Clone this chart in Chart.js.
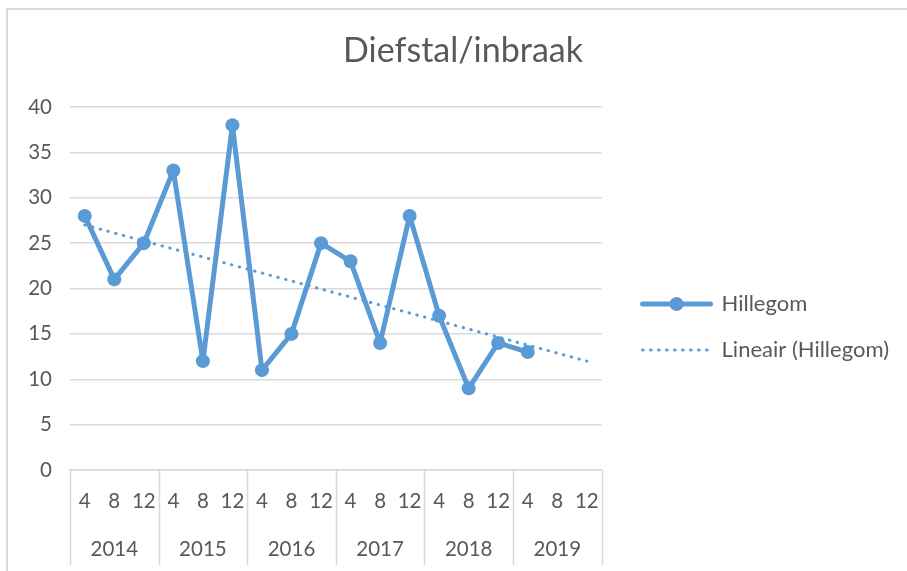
<!DOCTYPE html>
<html>
<head>
<meta charset="utf-8">
<script src="https://cdn.jsdelivr.net/npm/chart.js@4"></script>
<style>
  html, body { margin: 0; padding: 0; background: #fff; overflow: hidden; }
  #frame { position: absolute; left: 6px; top: 8px; width: 1000px; height: 1000px;
           border-left: 2px solid #d9d9d9; border-top: 2px solid #d9d9d9; }
  #wrap { position: absolute; left: 0; top: 0; width: 907px; height: 571px; }
</style>
</head>
<body>
<div id="frame"></div>
<div id="wrap"><canvas id="myChart"></canvas></div>
<script>
const months = ["4", "8", "12", "4", "8", "12", "4", "8", "12",
                "4", "8", "12", "4", "8", "12", "4", "8", "12"];
const years = ["2014", "2015", "2016", "2017", "2018", "2019"];
const hillegom = [28, 21, 25, 33, 12, 38, 11, 15, 25, 23, 14, 28, 17, 9, 14, 13, null, null];
// trendlijn: alleen begin- en eindpunt, de rest wordt overbrugd
const trend = [27, null, null, null, null, null, null, null, null,
               null, null, null, null, null, null, null, null, 12];

const blue = "#5b9bd5";
const grey = "#d9d9d9";
const textColor = "#595959";
const font = "Lato, 'Open Sans', sans-serif";
const axisSize = 20.5;

// bolletje midden op de lijn in de legenda + scheidingslijnen tussen de jaren
const extras = {
  id: "extras",
  afterDraw(chart) {
    const ctx = chart.ctx;
    ctx.save();

    const box = chart.legend.legendHitBoxes[0];
    if (box) {
      ctx.fillStyle = blue;
      ctx.beginPath();
      ctx.arc(box.left + 34, box.top + box.height / 2, 7, 0, Math.PI * 2);
      ctx.fill();
    }

    const xs = chart.scales.x;
    const x2 = chart.scales.x2;
    const band = xs.getPixelForTick(1) - xs.getPixelForTick(0);
    ctx.strokeStyle = grey;
    ctx.lineWidth = 1.5;
    for (let i = 0; i <= months.length; i += 3) {
      const px = Math.round(xs.getPixelForTick(0) - band / 2 + i * band) + 0.5;
      ctx.beginPath();
      ctx.moveTo(px, xs.top);
      ctx.lineTo(px, x2.bottom);
      ctx.stroke();
    }
    ctx.restore();
  },
};

const data = {
  labels: months,
  datasets: [
    {
      label: "Hillegom",
      data: hillegom,
      borderColor: blue,
      backgroundColor: blue,
      borderWidth: 5,
      borderJoinStyle: "round",
      borderCapStyle: "round",
      pointRadius: 7,
      pointBorderWidth: 0,
      pointBackgroundColor: blue,
      tension: 0,
    },
    {
      label: "Lineair (Hillegom)",
      data: trend,
      spanGaps: true,
      borderColor: blue,
      backgroundColor: blue,
      borderWidth: 3,
      borderDash: [0.5, 7.5],
      borderCapStyle: "round",
      pointRadius: 0,
      tension: 0,
    },
  ],
};

const config = {
  type: "line",
  data: data,
  options: {
    responsive: true,
    maintainAspectRatio: false,
    animation: false,
    layout: { padding: { left: 27, right: 8, top: 0, bottom: 6 } },
    scales: {
      y: {
        min: 0,
        max: 40,
        afterFit: (s) => { s.width = 43; },
        ticks: { stepSize: 5, padding: 18, color: textColor, font: { family: font, size: axisSize } },
        grid: { color: grey, lineWidth: 1.5, drawTicks: false },
        border: { display: false },
      },
      yRight: {
        position: "right",
        afterFit: (s) => { s.width = 17; },
        ticks: { display: false },
        grid: { display: false },
        border: { display: false },
      },
      x: {
        offset: true,
        weight: 0,
        ticks: {
          autoSkip: false,
          maxRotation: 0,
          padding: 11.2,
          color: textColor,
          font: { family: font, size: axisSize },
        },
        grid: { display: false },
        border: { display: true, color: grey, width: 1.5 },
      },
      x2: {
        type: "category",
        labels: years,
        position: "bottom",
        offset: true,
        weight: 1,
        ticks: {
          maxRotation: 0,
          padding: 3.7,
          color: textColor,
          font: { family: font, size: axisSize },
        },
        grid: { display: false },
        border: { display: false },
      },
    },
    plugins: {
      title: {
        display: true,
        text: "Diefstal/inbraak",
        color: textColor,
        font: { family: font, size: 34, weight: "normal" },
        padding: { top: 30.6, bottom: 35.6 },
      },
      legend: {
        display: true,
        position: "right",
        maxWidth: 320,
        title: { display: true, text: "", padding: { top: 0, bottom: 74.6 } },
        labels: {
          usePointStyle: true,
          pointStyleWidth: 68,
          padding: 24,
          textAlign: "left",
          color: textColor,
          font: { family: font, size: 22 },
          generateLabels: (chart) =>
            chart.data.datasets.map((ds, i) => ({
              text: ds.label,
              datasetIndex: i,
              fillStyle: ds.borderColor,
              strokeStyle: ds.borderColor,
              lineWidth: ds.borderWidth,
              lineDash: ds.borderDash || [],
              lineCap: "round",
              pointStyle: "line",
              fontColor: textColor,
              hidden: false,
            })),
        },
      },
      tooltip: { enabled: false },
    },
  },
  plugins: [extras],
};

new Chart(document.getElementById("myChart"), config);
</script>
</body>
</html>
